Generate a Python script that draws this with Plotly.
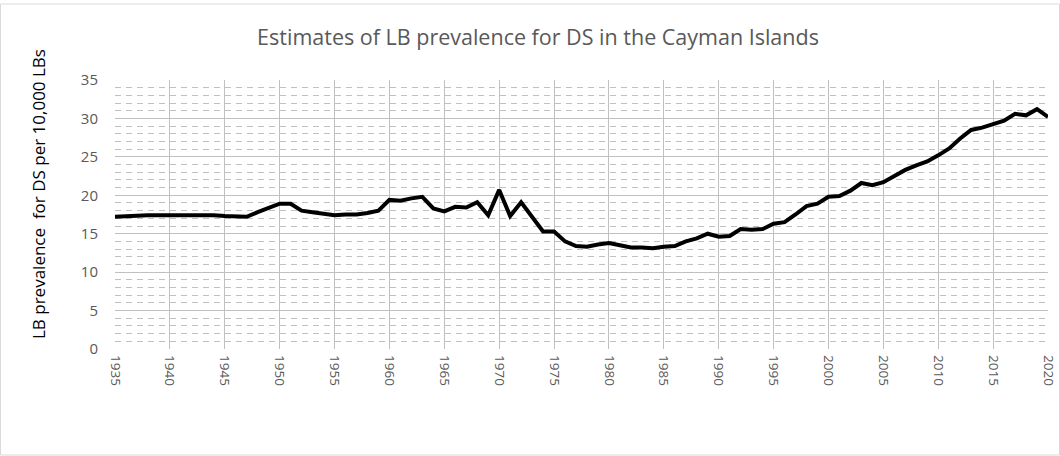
import plotly.graph_objects as go

years = list(range(1935, 2021))
prevalence = [
    17.2, 17.3, 17.3, 17.4, 17.4, 17.4, 17.5, 17.5, 17.5, 17.4,
    17.3, 17.2, 17.2, 17.8, 18.4, 18.9, 18.9, 18.0, 17.8, 17.6,
    17.4, 17.5, 17.5, 17.7, 18.0, 19.4, 19.3, 19.6, 19.8, 18.3,
    17.9, 18.5, 18.4, 19.1, 17.4, 20.7, 17.3, 19.1, 17.3, 15.3,
    15.3, 14.0, 13.4, 13.3, 13.6, 13.8, 13.5, 13.2, 13.2, 13.1,
    13.3, 13.4, 14.0, 14.4, 15.0, 14.6, 14.7, 15.6, 15.5, 15.6,
    16.3, 16.5, 17.5, 18.6, 18.9, 19.8, 19.9, 20.6, 21.6, 21.3,
    21.7, 22.5, 23.3, 23.9, 24.4, 25.2, 26.1, 27.4, 28.5, 28.8,
    29.3, 29.7, 30.6, 30.4, 31.2, 30.2,
]
x_ticks = list(range(1935, 2021, 5))
y_ticks = list(range(0, 36, 5))

title_text = "Estimates of LB prevalence for DS in the Cayman Islands"
y_title = "LB prevalence  for DS per 10,000 LBs"

W, H = 1060, 456
L, R, T, B = 115, 12, 80, 107
pw, ph = W - L - R, H - T - B

def px_x(px):
    return (px - L) / pw

def px_y(py):
    return (H - B - py) / ph

fig = go.Figure()
fig.add_trace(go.Scatter(
    x=years, y=prevalence, mode="lines",
    line=dict(color="black", width=4), showlegend=False,
))

fig.update_layout(
    width=W, height=H,
    margin=dict(l=L, r=R, t=T, b=B, autoexpand=False),
    paper_bgcolor="white", plot_bgcolor="white",
    font=dict(family="Open Sans", color="#595959"),
    title=dict(text=title_text, x=538 / W, xanchor="center", y=1 - 37 / H, yanchor="middle",
               font=dict(size=21.5, color="#595959", family="Open Sans")),
    xaxis=dict(
        range=[1935, 2020], tickvals=x_ticks, ticktext=[str(v) for v in x_ticks],
        tickangle=90, tickfont=dict(size=13.5, color="#595959"),
        showgrid=True, gridcolor="#c0c0c0", gridwidth=1, automargin=False,
        showline=False, zeroline=False, ticks="", ticklabelstandoff=5,
    ),
    yaxis=dict(
        range=[0, 35], tickvals=y_ticks, tickfont=dict(size=15, color="#595959"),
        showgrid=True, gridcolor="#c0c0c0", gridwidth=1, automargin=False,
        minor=dict(dtick=1, showgrid=True, gridcolor="#c0c0c0", griddash="6px,5px", gridwidth=1),
        showline=False, zeroline=False, ticks="", ticklabelstandoff=16,
    ),
    annotations=[dict(
        text=y_title, textangle=-90, xref="paper", yref="paper",
        x=px_x(38), y=px_y(194), xanchor="center", yanchor="middle",
        showarrow=False, font=dict(size=17, color="black", family="Open Sans"),
    )],
    shapes=[dict(
        type="rect", xref="paper", yref="paper",
        x0=px_x(0.5), x1=px_x(1059.5),
        y0=px_y(455), y1=px_y(4),
        line=dict(color="#d9d9d9", width=1), fillcolor="rgba(0,0,0,0)", layer="below",
    )],
)

fig.write_html(
    "out.html",
    config={"displayModeBar": False},
    post_script="document.body.style.margin='0';document.body.style.overflow='hidden';",
)
